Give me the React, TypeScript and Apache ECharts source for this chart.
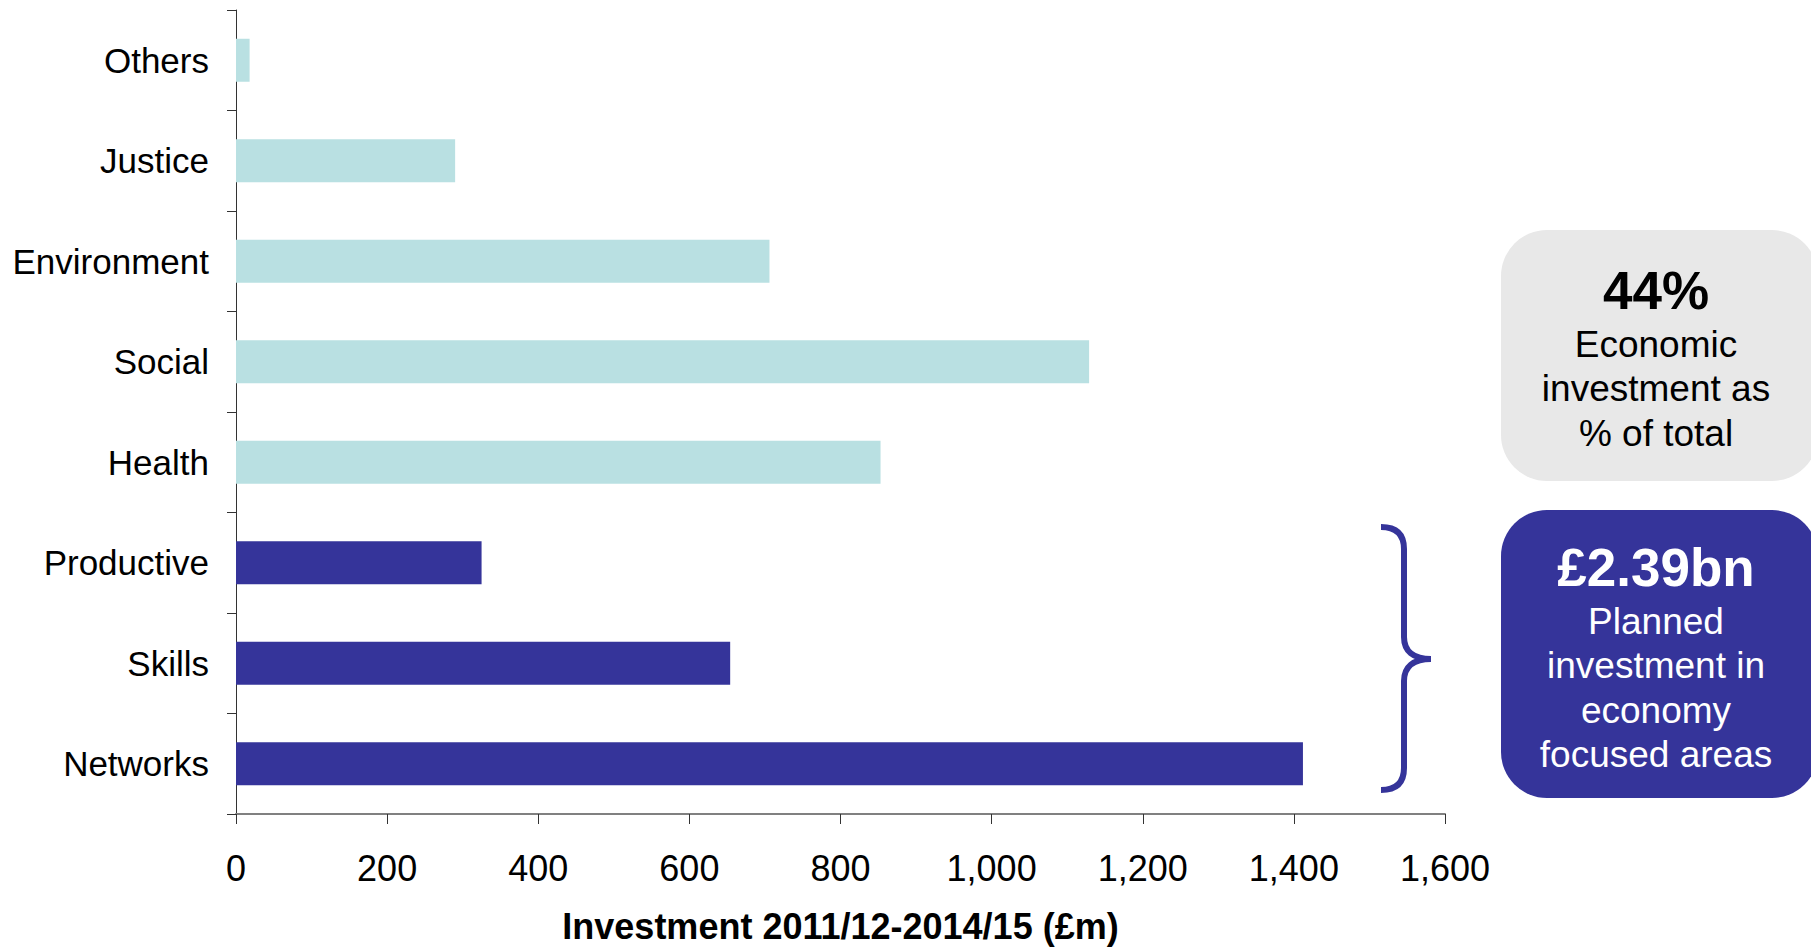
import React, { useEffect, useRef } from "react";
import * as echarts from "echarts";

const categories = ["Others", "Justice", "Environment", "Social", "Health", "Productive", "Skills", "Networks"];
const values = [18, 290, 706, 1129, 853, 325, 654, 1412];
const economic = [false, false, false, false, false, true, true, true];
const xTicks = { min: 0, max: 1600, interval: 200 };
const axisTitle = "Investment 2011/12-2014/15 (£m)";
const greyBoxLines = ["44%", "Economic", "investment as", "% of total"];
const blueBoxLines = ["£2.39bn", "Planned", "investment in", "economy", "focused areas"];

const LIGHT = "#B9E0E2";
const DARK = "#35349A";
const FONT = "'Liberation Sans', Arial, Helvetica, sans-serif";

const BRACE_D =
  "M0,0 C14,0 23,6 23,22 L23,110 C23,124 32,132 50,132 C32,132 23,140 23,154 L23,241 C23,257 14,263 0,263";

let braceRegistered = false;

function boxTexts(lines: string[], cx: number, y0: number, step: number, color: string) {
  return lines.map((t, i) => ({
    type: "text",
    x: cx,
    y: i === 0 ? y0 : y0 + 9.5 + i * step,
    style: {
      text: t,
      fill: color,
      font: i === 0 ? `bold 53px ${FONT}` : `37px ${FONT}`,
      align: "center",
      verticalAlign: "middle",
      textAlign: "center",
      textVerticalAlign: "middle",
    },
  }));
}

export default function App() {
  const ref = useRef<HTMLDivElement>(null);
  useEffect(() => {
    document.body.style.margin = "0";
    if (!braceRegistered) {
      echarts.graphic.registerShape("brace", echarts.graphic.extendPath(BRACE_D, {}) as any);
      braceRegistered = true;
    }
    const chart = echarts.init(ref.current!, undefined, { renderer: "svg" });
    chart.setOption({
      animation: false,
      backgroundColor: "#ffffff",
      grid: { left: 236, right: 366, top: 10, bottom: 130, containLabel: false },
      xAxis: {
        type: "value",
        min: xTicks.min,
        max: xTicks.max,
        interval: xTicks.interval,
        name: axisTitle,
        nameLocation: "middle",
        nameGap: 94,
        nameTextStyle: { fontFamily: FONT, fontSize: 36, fontWeight: "bold", color: "#000" },
        axisLine: { show: true, lineStyle: { color: "#808080", width: 2 } },
        axisTick: { show: true, length: 10, lineStyle: { color: "#333", width: 1 } },
        axisLabel: {
          margin: 36,
          fontFamily: FONT,
          fontSize: 36,
          color: "#000",
          formatter: (v: number) => v.toLocaleString("en-US"),
        },
        splitLine: { show: false },
      },
      yAxis: {
        type: "category",
        inverse: true,
        data: categories,
        axisLine: { show: true, lineStyle: { color: "#333", width: 1 } },
        axisTick: { show: true, length: 9, lineStyle: { color: "#333", width: 1 } },
        axisLabel: { margin: 27, fontFamily: FONT, fontSize: 35, color: "#000" },
        splitLine: { show: false },
      },
      series: [
        {
          type: "bar",
          barWidth: 43,
          data: values.map((v, i) => ({ value: v, itemStyle: { color: economic[i] ? DARK : LIGHT } })),
        },
      ],
      graphic: [
        {
          type: "rect",
          shape: { x: 1501, y: 230, width: 317, height: 251, r: 46 },
          style: { fill: "#E8E8E8" },
        },
        ...boxTexts(greyBoxLines, 1656, 290, 44.5, "#000"),
        {
          type: "rect",
          shape: { x: 1501, y: 510, width: 317, height: 288, r: 46 },
          style: { fill: DARK },
        },
        ...boxTexts(blueBoxLines, 1656, 567, 44.5, "#fff"),
        {
          type: "brace",
          x: 1381,
          y: 527,
          style: { stroke: DARK, fill: null, lineWidth: 6 },
        },
      ],
    });
    return () => chart.dispose();
  }, []);
  return <div ref={ref} style={{ width: 1811, height: 949 }} />;
}
